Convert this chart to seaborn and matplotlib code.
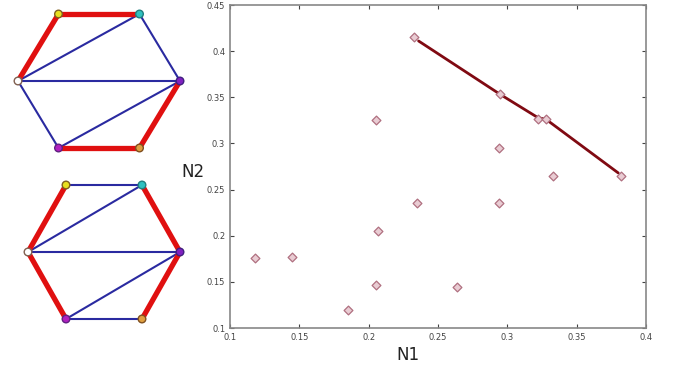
import numpy as np
import pandas as pd
import matplotlib
matplotlib.use('Agg')
import matplotlib.pyplot as plt
import seaborn as sns

# Scatter data (N1, N2)
n1 = [0.233, 0.295, 0.322, 0.328, 0.382, 0.205, 0.294, 0.333, 0.235, 0.294,
      0.207, 0.118, 0.145, 0.205, 0.185, 0.264]
n2 = [0.415, 0.354, 0.327, 0.327, 0.265, 0.325, 0.295, 0.265, 0.235, 0.235,
      0.205, 0.176, 0.177, 0.147, 0.119, 0.144]

# front line
front_n1 = [0.236, 0.295, 0.322, 0.328, 0.380]
front_n2 = [0.411, 0.353, 0.328, 0.326, 0.268]

x_ticks = [0.1, 0.15, 0.2, 0.25, 0.3, 0.35, 0.4]
y_ticks = [0.1, 0.15, 0.2, 0.25, 0.3, 0.35, 0.4, 0.45]

# Hexagon graphs: node order = left, top-left, top-right, right, bottom-right, bottom-left
node_colors = ['white', '#e8e020', '#30c0c0', '#8020c0', '#e0a040', '#b020c0']
node_edges = ['#806050', '#806020', '#208080', '#402080', '#805020', '#602080']
g1_red = [(0, 1), (1, 2), (3, 4), (4, 5)]
g1_blue = [(0, 2), (2, 3), (0, 3), (0, 5), (5, 3)]
g2_red = [(0, 1), (0, 5), (2, 3), (3, 4)]
g2_blue = [(1, 2), (0, 2), (0, 3), (5, 3), (5, 4)]

sns.set_style('white')
fig = plt.figure(figsize=(6.75, 3.75), dpi=100)

# main scatter axes
ax = fig.add_axes([230 / 675, 1 - 328 / 375, 416 / 675, 323 / 375])
df = pd.DataFrame({'N1': n1, 'N2': n2})
front = pd.DataFrame({'N1': front_n1, 'N2': front_n2})
sns.lineplot(data=front, x='N1', y='N2', color='#800a12', linewidth=2.0, ax=ax,
             sort=False, zorder=2)
sns.scatterplot(data=df, x='N1', y='N2', marker='D', s=20, facecolor='#e9ccd3',
                edgecolor='#b07080', linewidth=0.9, ax=ax, zorder=3)
ax.set_xlim(0.1, 0.4)
ax.set_ylim(0.1, 0.45)
ax.set_xticks(x_ticks)
ax.set_yticks(y_ticks)
ax.set_xticklabels([f'{t:g}' for t in x_ticks])
ax.set_yticklabels([f'{t:g}' for t in y_ticks])
ax.tick_params(direction='in', length=3, width=0.8, labelsize=6,
               colors='#444444', top=True, right=True, bottom=True, left=True)
for s in ax.spines.values():
    s.set_color('#888888')
    s.set_linewidth(1.2)
ax.set_xlabel('')
ax.set_ylabel('')
fig.text(408 / 675, 1 - 355 / 375, 'N1', fontsize=12, color='#222222',
         ha='center', va='center')
fig.text(193 / 675, 1 - 172 / 375, 'N2', fontsize=12, color='#222222',
         ha='center', va='center')

# graph panel
gax = fig.add_axes([0, 0, 200 / 675, 1])
gax.set_xlim(0, 200)
gax.set_ylim(375, 0)
gax.axis('off')


def hexagon(cx, cy, rx, ry):
    ang = np.deg2rad([180, 120, 60, 0, -60, -120])
    return np.column_stack([cx + rx * np.cos(ang), cy - ry * np.sin(ang) / np.sin(np.pi / 3)])


def draw_graph(pos, red, blue):
    for a, b in blue:
        gax.plot([pos[a, 0], pos[b, 0]], [pos[a, 1], pos[b, 1]], color='#2a2aa0',
                 linewidth=1.5, zorder=1)
    for a, b in red:
        gax.plot([pos[a, 0], pos[b, 0]], [pos[a, 1], pos[b, 1]], color='#e01010',
                 linewidth=3.8, zorder=2, solid_capstyle='round')
    gax.scatter(pos[:, 0], pos[:, 1], s=30, c=node_colors, edgecolors=node_edges,
                linewidths=1.0, zorder=3)


draw_graph(hexagon(99, 81, 81, 67), g1_red, g1_blue)
draw_graph(hexagon(104, 252, 76, 67), g2_red, g2_blue)

fig.savefig('out.png', dpi=100)
